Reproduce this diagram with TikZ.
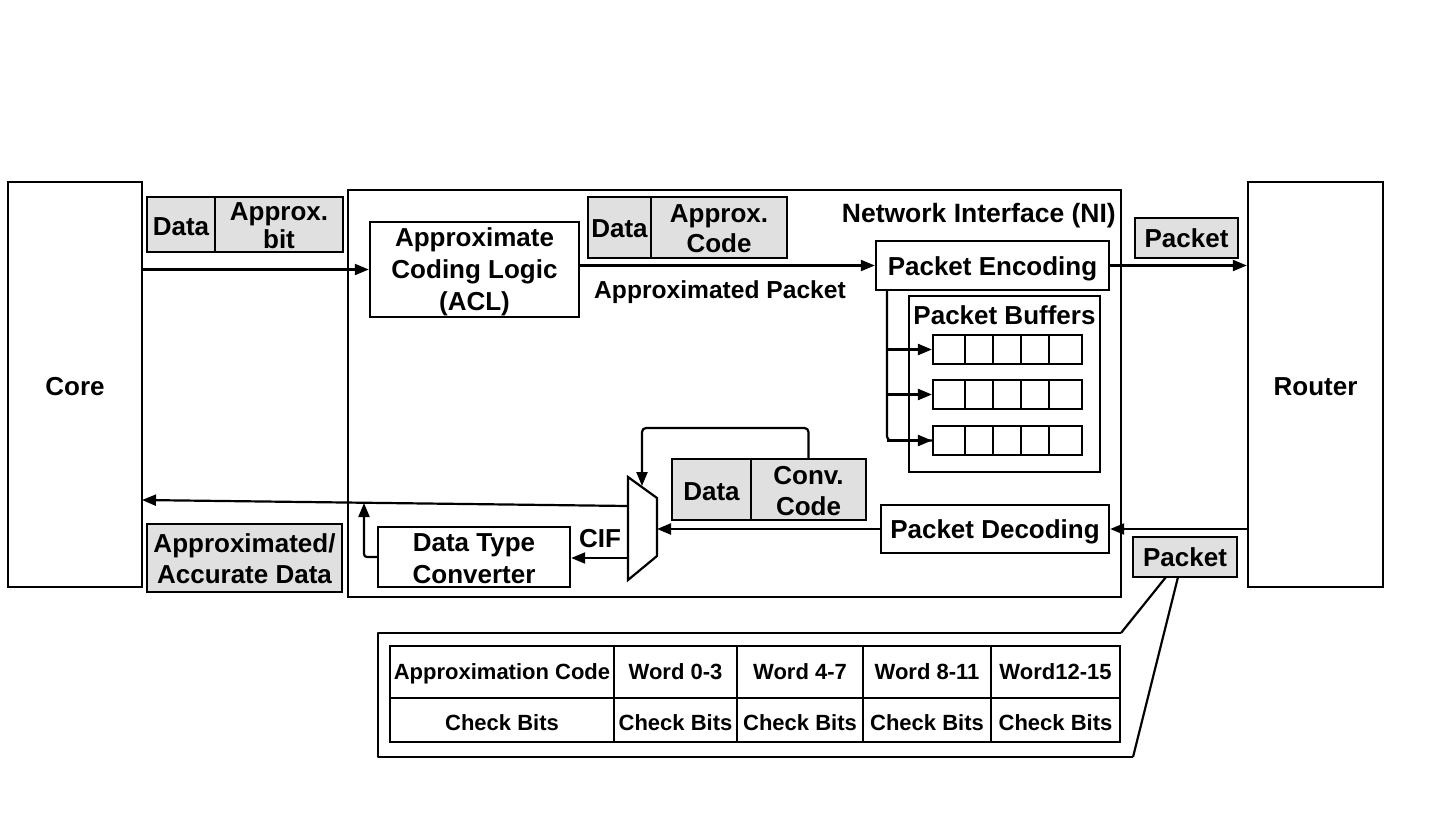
\documentclass[tikz,border=0pt]{standalone}
\usepackage{fontspec}
\setmainfont{Liberation Sans}
\usetikzlibrary{arrows.meta,calc}
\begin{document}
\begin{tikzpicture}[x=1pt,y=-1pt,
  bx/.style={draw, line width=2.4pt, inner sep=0pt},
  gbx/.style={bx, fill=black!12},
  txt/.style={font=\fontsize{26}{32}\selectfont\bfseries, align=center, inner sep=0pt},
  ctxt/.style={txt, text height=18.7pt, text depth=0pt},
  gtxt/.style={font=\fontsize{26}{28}\selectfont\bfseries, align=center, inner sep=0pt},
  stxt/.style={font=\fontsize{22}{26}\selectfont\bfseries, align=center, inner sep=0pt, text height=15.8pt, text depth=0pt},
  arr/.style={line width=2.2pt, -{Triangle[length=14pt,width=11pt]}},
  ln/.style={line width=2.2pt}]
\useasboundingbox (0,0) rectangle (1446,822);

% Core and Router
\node[bx, minimum width=134, minimum height=405] (core) at (75,384.5) {};
\node[ctxt] at (75,386) {Core};
\node[bx, minimum width=135, minimum height=405] (router) at (1315.5,384.5) {};
\node[ctxt] at (1315.5,386) {Router};

% NI
\node[bx, minimum width=773, minimum height=407] (ni) at (734.5,393.5) {};
\node[ctxt, font=\fontsize{26.5}{32}\selectfont\bfseries, anchor=east] (nilabel) at (1116,213) {Network Interface (NI)};

% Data | Approx. bit
\node[gbx, minimum width=68, minimum height=55] (d1) at (181,224.5) {};
\node[gbx, minimum width=128, minimum height=55] (a1) at (279,224.5) {};
\node[ctxt] at (181,226) {Data};
\node[gtxt] at ($(a1)+(0,1.5)$) {Approx.\\bit};

% ACL
\node[bx, minimum width=209, minimum height=95] (acl) at (474.5,269.5) {};
\node[txt] at ($(acl)+(0,2.5)$) {Approximate\\Coding Logic\\(ACL)};

% Data | Approx. Code
\node[gbx, minimum width=63, minimum height=61] (d2) at (619.5,227.5) {};
\node[gbx, minimum width=136, minimum height=61] (a2) at (719,227.5) {};
\node[ctxt] at (619.5,228) {Data};
\node[gtxt, font=\fontsize{26}{30.5}\selectfont\bfseries] at ($(a2)+(0,1)$) {Approx.\\Code};

\node[ctxt, font=\fontsize{24.6}{30}\selectfont\bfseries, text height=17.7pt] (aplabel) at (720,290) {Approximated Packet};

% Packet Encoding
\node[bx, minimum width=233, minimum height=49] (penc) at (992.5,265.5) {};
\node[ctxt] at (992.5,266.5) {Packet Encoding};

% Packet (top)
\node[gbx, minimum width=103, minimum height=40] (pkt1) at (1186.5,238) {};
\node[ctxt] at (1186.5,238.5) {Packet};

% Packet Buffers
\node[bx, minimum width=191, minimum height=176] (pbuf) at (1004.5,384) {};
\node[ctxt] (pbtitle) at (1004.5,315.5) {Packet Buffers};
\foreach \r/\y in {1/349.5, 2/394.5, 3/440.5}{
  \node[bx, line width=2.2pt, minimum width=149, minimum height=29] (row\r) at (1007.5,\y) {};
  \foreach \xx in {965,993,1021,1049}{
    \draw[line width=2.2pt] (\xx,\y-14.5) -- (\xx,\y+14.5);
  }
}
% branches
\coordinate (br) at (887,290);
\draw[ln, rounded corners=4] (br) |- (row3.west);
\draw[arr] (br |- row3.west) -- (row3.west);
\draw[arr] (br |- row1.west) -- (row1.west);
\draw[arr] (br |- row2.west) -- (row2.west);

% Packet Decoding
\node[bx, minimum width=228, minimum height=48] (pdec) at (995,529) {};
\node[ctxt] at (995,529.5) {Packet Decoding};

% Packet (bottom)
\node[gbx, minimum width=104, minimum height=40] (pkt2) at (1185,557) {};
\node[ctxt] at (1185,557.5) {Packet};

% Data | Conv. Code
\node[gbx, minimum width=79, minimum height=61] (dc) at (711.5,489.5) {};
\node[gbx, minimum width=115, minimum height=61] (cc) at (808.5,489.5) {};
\node[ctxt] at (711.5,491) {Data};
\node[gtxt, font=\fontsize{26}{30.5}\selectfont\bfseries] at ($(cc)+(0,1.5)$) {Conv.\\Code};

% MUX
\coordinate (m1) at (628,477);
\coordinate (m2) at (657,498);
\coordinate (m3) at (657,556);
\coordinate (m4) at (628,580);
\draw[line width=2.2pt, line join=miter] (m1) -- (m2) -- (m3) -- (m4) -- cycle;
\coordinate (muxin) at (657,529);
\coordinate (muxout) at (628,558);
\coordinate (muxcore) at (628,506);
\coordinate (muxsel) at (642,486);

% Data Type Converter
\node[bx, minimum width=192, minimum height=60] (dtc) at (474,557) {};
\node[txt] at (474,558.5) {Data Type\\Converter};
\node[ctxt] (cif) at (600,538) {CIF};

% Approximated / Accurate Data
\node[gbx, minimum width=195, minimum height=68] (acc) at (244.5,558) {};
\node[txt, font=\fontsize{26}{31}\selectfont\bfseries] at (244.5,558.5) {Approximated/\\Accurate Data};

% arrows
\draw[arr] (acl.west -| core.east) -- (acl.west);
\draw[arr] (acl.east |- penc.west) -- (penc.west);
\draw[arr] (penc.east) -- (penc.east -| router.west);
\draw[arr] (pdec.east -| router.west) -- (pdec.east);
\draw[arr] (pdec.west) -- (muxin);
\draw[arr] (muxout) -- (muxout -| dtc.east);
\coordinate (corein) at (142,500);
\draw[arr] (muxcore) -- (corein);
\coordinate (upend) at (364,503);
\draw[arr, rounded corners=3] (dtc.west) -| (upend);
\coordinate (fbtop) at (642,428);
\draw[arr, rounded corners=4] (cc.north) |- (fbtop) -- (muxsel);

% Packet format table
\coordinate (ftr) at (1121,633);
\coordinate (fbr) at (1133,757);
\draw[ln, line join=round] (ftr) -- (378,633) -- (378,757) -- (fbr);
\draw[ln] (1166,577) -- (ftr);
\draw[ln] (1178,577) -- (fbr);

\node[bx, minimum width=730, minimum height=96] (tbl) at (755,694) {};
\draw[line width=2.4pt] (390,698) -- (1120,698);
\foreach \xx in {614,737,863,991}{
  \draw[line width=2.4pt] (\xx,646) -- (\xx,742);
}
\node[stxt] (c11) at (502,672) {Approximation Code};
\node[stxt] (c12) at (675.5,672) {Word 0-3};
\node[stxt] (c13) at (800,672) {Word 4-7};
\node[stxt] (c14) at (927,672) {Word 8-11};
\node[stxt] (c15) at (1055.5,672) {Word12-15};
\node[stxt] (c21) at (502,723) {Check Bits};
\node[stxt] (c22) at (675.5,723) {Check Bits};
\node[stxt] (c23) at (800,723) {Check Bits};
\node[stxt] (c24) at (927,723) {Check Bits};
\node[stxt] (c25) at (1055.5,723) {Check Bits};
\end{tikzpicture}
\end{document}
